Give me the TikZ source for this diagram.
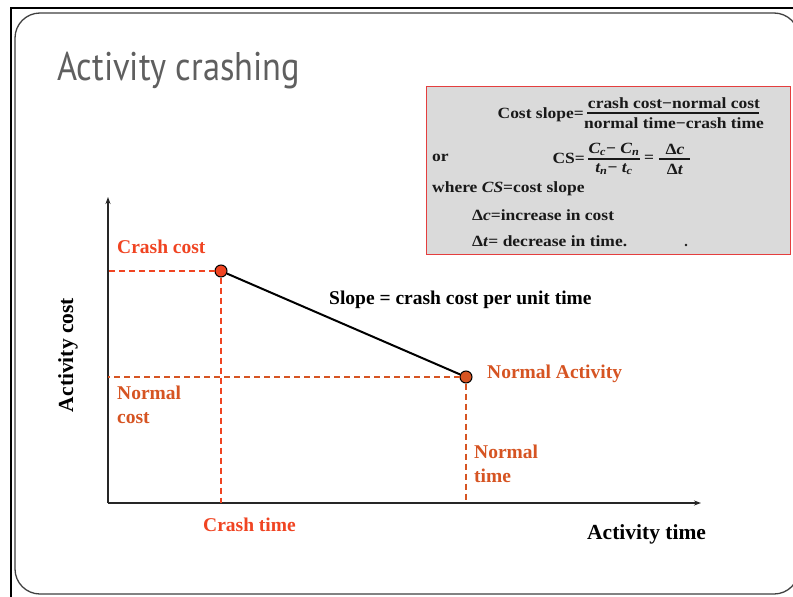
\documentclass[tikz,border=0pt]{standalone}
\usepackage{fontspec}
\setmainfont{Liberation Serif}
\newfontfamily\titlefont[FakeStretch=0.86]{PT Sans}
\newfontfamily\scanfont[FakeStretch=1.12]{Liberation Serif}
\usetikzlibrary{arrows.meta}
\definecolor{crashred}{RGB}{240,68,34}
\definecolor{normorange}{RGB}{214,84,34}
\definecolor{titlegray}{RGB}{95,95,95}
\definecolor{scanbg}{RGB}{218,218,218}
\definecolor{boxred}{RGB}{228,62,62}
\definecolor{inkblack}{RGB}{25,25,25}
\begin{document}
\begin{tikzpicture}[x=1pt,y=-1pt,
  lab/.style={font=\fontsize{19.5}{24}\selectfont\bfseries, inner sep=0pt, align=left},
  axtitle/.style={font=\fontsize{21.5}{24}\selectfont\bfseries, inner sep=0pt},
  scan/.style={font=\scanfont\fontsize{15.6}{17}\selectfont\bfseries, text=inkblack, inner sep=0pt},
  axis/.style={line width=1.2pt, draw=black!85, -{Stealth[length=7pt,width=5pt]}},
  guide/.style={dashed, dash pattern=on 6pt off 4pt, line width=1.2pt},
  pt/.style={circle, draw=black, line width=1pt, minimum size=12pt, inner sep=0pt},
  fracrule/.style={line width=1.1pt, draw=inkblack}]
\useasboundingbox (0,0) rectangle (793,597);
\fill[white] (0,0) rectangle (793,597);

% slide frame
\draw[line width=2.5pt, black] (11,597) -- (11,8) -- (793,8);
\draw[line width=1.3pt, black!75, rounded corners=25pt] (15,13) rectangle (799,594);

% title
\node[anchor=base west, inner sep=0pt, text=titlegray, font=\titlefont\fontsize{40}{44}\selectfont] (title) at (57,80) {Activity crashing};

% formula panel
\node[draw=boxred, line width=1.4pt, fill=scanbg, minimum width=364pt, minimum height=168pt, anchor=north west, inner sep=0pt] (panel) at (426,86) {};
\node[scan, anchor=east] (cslope) at (584,115) {Cost slope=};
\draw[fracrule] (587,113) -- (759,113);
\node[scan] (cnum) at (674,103) {crash cost−normal cost};
\node[scan] (cden) at (674,123) {normal time−crash time};
\node[scan, anchor=west] (or) at (432,158) {or};
\node[scan, anchor=east] (cs) at (585,158) {CS=};
\draw[fracrule] (588,159) -- (640,159);
\node[scan] (fnum) at (614,149) {\textit{C\textsubscript{c}}− \textit{C\textsubscript{n}}};
\node[scan] (fden) at (614,169) {\textit{t\textsubscript{n}}− \textit{t\textsubscript{c}}};
\node[scan] (eq) at (649,159) {=};
\draw[fracrule] (659,159) -- (690,159);
\node[scan] (dnum) at (675,149) {Δ\textit{c}};
\node[scan] (dden) at (675,169) {Δ\textit{t}};
\node[scan, anchor=west] (where) at (432,189) {where \textit{CS}=cost slope};
\node[scan, anchor=west] (dc) at (472,215) {Δ\textit{c}=increase in cost};
\node[scan, anchor=west] (dt) at (472,241) {Δ\textit{t}= decrease in time.};
\fill[inkblack] (686,245) circle (1.3pt);

% axes
\coordinate (o) at (108,503);
\coordinate (ytop) at (108,197);
\coordinate (xend) at (701,503);
\draw[axis] (o) -- (ytop);
\draw[axis] (o) -- (xend);

% crash and normal points
\node[pt, fill=crashred] (crashpt) at (221,271) {};
\node[pt, fill=normorange] (normalpt) at (466,377) {};

% guide lines
\draw[guide, crashred] (crashpt) -- (o |- crashpt);
\draw[guide, crashred] (crashpt) -- (crashpt |- o);
\draw[guide, normorange] (normalpt) -- (o |- normalpt);
\draw[guide, normorange] (normalpt) -- (normalpt |- o);

% cost slope line
\draw[line width=2pt, black] (crashpt) -- (normalpt);

% labels
\node[lab, text=crashred, anchor=west] (lcc) at (117,247) {Crash cost};
\node[lab, text=normorange, anchor=west] (lnc) at (117,405) {Normal\\cost};
\node[lab, text=crashred, anchor=west] (lct) at (203,525) {Crash time};
\node[lab, text=normorange, anchor=west] (lnt) at (474,464) {Normal\\time};
\node[lab, text=normorange, anchor=west] (lna) at (487,374) {Normal Activity};
\node[lab, anchor=west] (lslope) at (329,300) {Slope = crash cost per unit time};
\node[axtitle, anchor=west] (lat) at (587,534) {Activity time};
\node[axtitle, rotate=90] (lac) at (68,355) {Activity cost};
\end{tikzpicture}
\end{document}
